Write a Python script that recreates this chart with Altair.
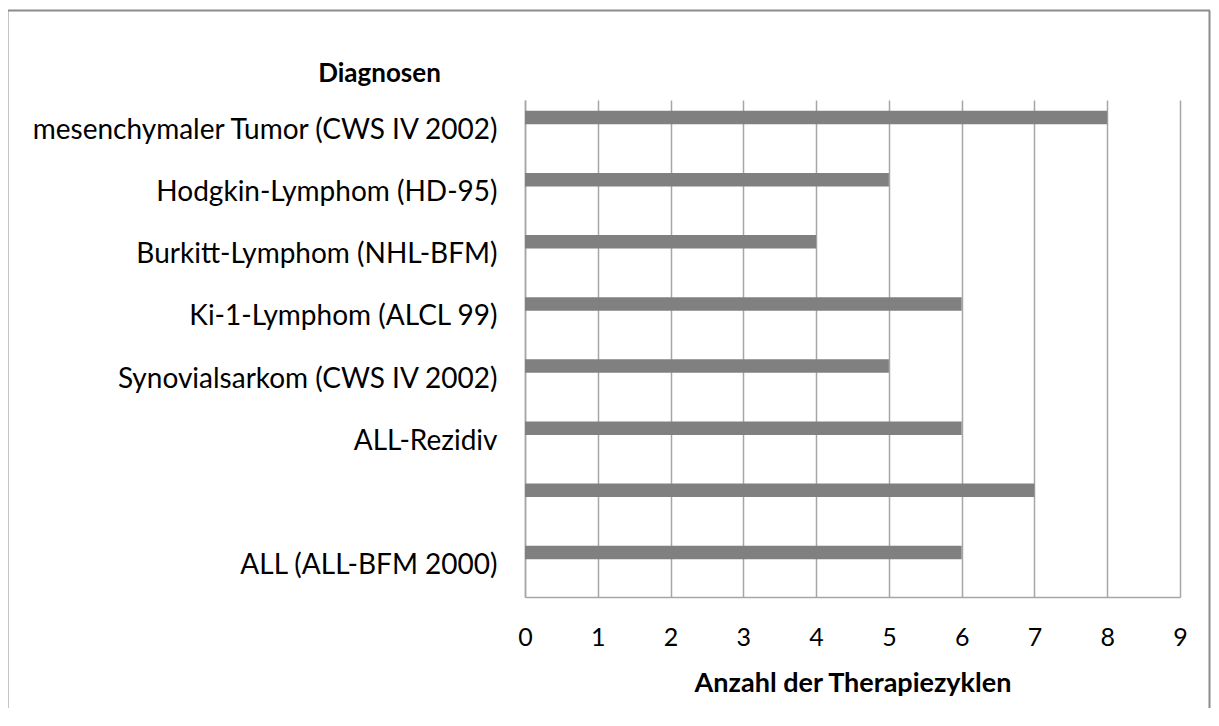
import altair as alt
import pandas as pd

categories = [
    "mesenchymaler Tumor (CWS IV 2002)",
    "Hodgkin-Lymphom (HD-95)",
    "Burkitt-Lymphom (NHL-BFM)",
    "Ki-1-Lymphom (ALCL 99)",
    "Synovialsarkom (CWS IV 2002)",
    "ALL-Rezidiv",
    " ",
    "ALL (ALL-BFM 2000)",
]
values = [8, 5, 4, 6, 5, 6, 7, 6]
x_ticks = list(range(0, 10))

df = pd.DataFrame({"Diagnose": categories, "Zyklen": values})

FONT = "Lato"
GRID = "#a6a6a6"
W, H = 655, 497

bars = alt.Chart(df).mark_bar(color="#808080", size=13.5, yOffset=-13.5).encode(
    x=alt.X(
        "Zyklen:Q",
        scale=alt.Scale(domain=[0, 9], nice=False),
        axis=alt.Axis(
            values=x_ticks,
            title="Anzahl der Therapiezyklen",
            titleFont=FONT,
            titleFontSize=27,
            titleFontWeight="bold",
            titleColor="#000000",
            titlePadding=20,
            labelFont=FONT,
            labelFontSize=25,
            labelColor="#000000",
            labelPadding=28,
            labelFlush=False,
            ticks=False,
            grid=True,
            gridColor=GRID,
            gridWidth=1.5,
            domainColor=GRID,
            domainWidth=1.5,
        ),
    ),
    y=alt.Y(
        "Diagnose:N",
        sort=categories,
        scale=alt.Scale(paddingInner=0, paddingOuter=0),
        axis=alt.Axis(
            title="Diagnosen",
            titleAngle=0,
            titleFont=FONT,
            titleFontSize=26,
            titleFontWeight="bold",
            titleColor="#000000",
            titleAlign="center",
            titleBaseline="middle",
            titleX=-146,
            titleY=-27,
            labelFont=FONT,
            labelFontSize=28,
            labelColor="#000000",
            labelPadding=28,
            labelLimit=700,
            ticks=False,
            grid=False,
            domainColor=GRID,
            domainWidth=1.5,
        ),
    ),
)

one = pd.DataFrame({"a": [0]})
BORDER = "#8c8c8c"
left_b = alt.Chart(one).mark_rule(color=BORDER, strokeWidth=2).encode(
    x=alt.value(-517.5), y=alt.value(-89.5), y2=alt.value(720)
)
top_b = alt.Chart(one).mark_rule(color=BORDER, strokeWidth=2).encode(
    x=alt.value(-517.5), x2=alt.value(685), y=alt.value(-89.5)
)
right_b = alt.Chart(one).mark_rule(color=BORDER, strokeWidth=2).encode(
    x=alt.value(684.5), y=alt.value(-89.5), y2=alt.value(720)
)

chart = (
    alt.layer(bars, left_b, top_b, right_b)
    .properties(
        width=W,
        height=H,
        autosize=alt.AutoSizeParams(type="none"),
        padding={"left": 517, "top": 92, "right": 31, "bottom": 111},
        background="white",
    )
    .configure_view(stroke=None)
)

chart.save("out.html", embed_options={"renderer": "svg", "actions": False})
